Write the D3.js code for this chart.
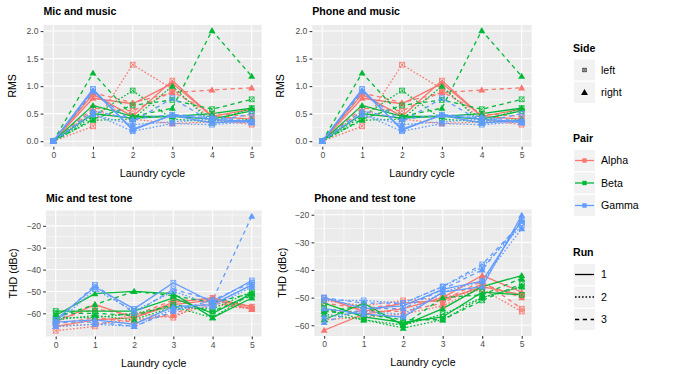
<!DOCTYPE html>
<html>
<head>
<meta charset="utf-8">
<script src="https://cdn.jsdelivr.net/npm/d3@7"></script>
<style>
body { margin: 0; background: #fff; }
text { font-family: "Liberation Sans", Arial, sans-serif; }
</style>
</head>
<body>
<div id="chart"></div>
<script>
var w = 673, h = 374;

// categories
var cycles = [0, 1, 2, 3, 4, 5];
var pairs = ["Alpha", "Beta", "Gamma"];
var sides = ["left", "right"];
var runs = ["1", "2", "3"];
var panelTitles = ["Mic and music", "Phone and music", "Mic and test tone", "Phone and test tone"];
var panelYTitles = ["RMS", "RMS", "THD (dBc)", "THD (dBc)"];

// values per pair: rows are left run1..3, right run1..3, columns are cycles 0..5
var micMusicAlpha = [
    [0, 0.85, 0.45, 1.10, 0.45, 0.40],
    [0, 0.27, 1.39, 0.95, 0.40, 0.30],
    [0, 0.60, 0.55, 0.90, 0.50, 0.45],
    [0, 0.78, 0.68, 1.05, 0.45, 0.58],
    [0, 0.55, 0.40, 0.32, 0.35, 0.35],
    [0, 0.88, 0.70, 0.88, 0.93, 0.97]
];
var micMusicBeta = [
    [0, 0.50, 0.42, 0.45, 0.40, 0.55],
    [0, 0.45, 0.92, 0.40, 0.35, 0.60],
    [0, 0.40, 0.65, 0.75, 0.58, 0.76],
    [0, 0.65, 0.45, 0.45, 0.50, 0.60],
    [0, 0.38, 0.40, 1.00, 0.33, 0.40],
    [0, 1.24, 0.45, 0.60, 2.01, 1.18]
];
var micMusicGamma = [
    [0, 0.95, 0.20, 0.48, 0.40, 0.35],
    [0, 0.50, 0.18, 0.32, 0.30, 0.35],
    [0, 0.90, 0.35, 0.78, 0.35, 0.50],
    [0, 0.92, 0.22, 0.47, 0.33, 0.38],
    [0, 0.48, 0.30, 0.35, 0.40, 0.33],
    [0, 0.55, 0.40, 0.48, 0.45, 0.35]
];
// the two music panels read identically
var phoneMusicAlpha = micMusicAlpha;
var phoneMusicBeta = micMusicBeta;
var phoneMusicGamma = micMusicGamma;

var micToneAlpha = [
    [-66, -63, -62, -56, -54, -57],
    [-68, -66, -60, -62, -53, -58],
    [-65, -62, -64, -60, -55, -58],
    [-64, -56, -62, -55, -53, -57],
    [-66, -65, -63, -61, -56, -58],
    [-63, -58, -61, -54, -54, -58]
];
var micToneBeta = [
    [-59, -59, -59, -53, -60, -51],
    [-62, -62, -60, -57, -58, -50],
    [-60, -60, -61, -56, -59, -52],
    [-61, -51, -50, -51, -62, -53],
    [-63, -61, -63, -57, -62, -51],
    [-62, -56, -50, -52, -55, -51]
];
var micToneGamma = [
    [-63, -48, -58, -46, -55, -45],
    [-65, -49, -59, -50, -56, -47],
    [-64, -47, -60, -49, -54, -46],
    [-64, -63, -65, -57, -56, -47],
    [-66, -65, -66, -58, -57, -48],
    [-64, -64, -66, -59, -54, -15.6]
];

var phoneToneAlpha = [
    [-50, -55, -52, -51, -46, -49],
    [-51, -53, -51, -50, -47, -55],
    [-52, -54, -52, -51, -44, -54],
    [-61.8, -56, -54, -50, -42, -48],
    [-58, -57, -56, -53, -46, -49],
    [-55, -55, -55, -52, -45, -50]
];
var phoneToneBeta = [
    [-52, -57, -59, -57, -48, -49],
    [-54, -58, -60, -56, -50, -46],
    [-55, -56, -58, -58, -51, -45],
    [-58, -52, -60, -54, -46, -42],
    [-56, -58, -61, -58, -50, -46],
    [-55, -53, -60, -50, -49, -43]
];
var phoneToneGamma = [
    [-50, -54, -53, -47, -44, -22],
    [-51, -51, -52, -46, -39, -24],
    [-50, -52, -52, -46, -38, -23],
    [-54, -56, -57, -48, -46, -20.2],
    [-57, -55, -56, -48, -44, -25],
    [-59, -54, -54, -47, -40, -22]
];

var panelData = [
    [micMusicAlpha, micMusicBeta, micMusicGamma],
    [phoneMusicAlpha, phoneMusicBeta, phoneMusicGamma],
    [micToneAlpha, micToneBeta, micToneGamma],
    [phoneToneAlpha, phoneToneBeta, phoneToneGamma]
];

var yTicks = [
    [0, 0.5, 1, 1.5, 2],
    [0, 0.5, 1, 1.5, 2],
    [-60, -50, -40, -30, -20],
    [-60, -50, -40, -30, -20]
];

// styles
var colors = { Alpha: "#F8766D", Beta: "#00BA38", Gamma: "#619CFF" };
var dashes = { "1": null, "2": "1.6,1.9", "3": "4.2,3.6" };
var lw = 1.3;
var fs = 10.6, tickFs = 8.6;

// panel boxes (grid.arrange style, each plot has its own axis)
var boxes = [
    { x0: 43.4, x1: 261.6, y0: 25, y1: 146.7, ytitle: 11.7, title: 14.8 },
    { x0: 312.3, x1: 531.6, y0: 25, y1: 146.7, ytitle: 280.5, title: 14.8 },
    { x0: 45.9, x1: 261.6, y0: 210.5, y1: 336.5, ytitle: 13.3, title: 202 },
    { x0: 314.3, x1: 531.6, y0: 209.5, y1: 336, ytitle: 281.7, title: 202 }
];

var svg = d3.select("#chart").append("svg")
    .attr("width", w).attr("height", h);

var fmtMinus = function (v) { return v < 0 ? "\u2212" + Math.abs(v) : "" + v; };

var triangle = d3.symbol().type(d3.symbolTriangle).size(21);

function drawLeftMarker(g, x, y, col, s) {
    var m = g.append("g").attr("transform", "translate(" + x + "," + y + ")")
        .attr("stroke", col).attr("fill", "none").attr("stroke-width", 0.8);
    m.append("rect").attr("x", -s / 2).attr("y", -s / 2).attr("width", s).attr("height", s);
    m.append("path").attr("d", "M" + (-s / 2) + "," + (-s / 2) + "L" + (s / 2) + "," + (s / 2)
        + "M" + (-s / 2) + "," + (s / 2) + "L" + (s / 2) + "," + (-s / 2));
}

panelData.forEach(function (pd, pi) {
    var b = boxes[pi];

    // flatten to series
    var series = [];
    pairs.forEach(function (pair, k) {
        sides.forEach(function (side, si) {
            runs.forEach(function (run, ri) {
                series.push({ pair: pair, side: side, run: run, values: pd[k][si * 3 + ri] });
            });
        });
    });

    var all = d3.merge(series.map(function (s) { return s.values; }));
    var ext = d3.extent(all);
    var pad = (ext[1] - ext[0]) * 0.05;

    var x = d3.scaleLinear().domain([-0.25, 5.25]).range([b.x0, b.x1]);
    var y = d3.scaleLinear().domain([ext[0] - pad, ext[1] + pad]).range([b.y1, b.y0]);

    var g = svg.append("g");

    g.append("rect").attr("x", b.x0).attr("y", b.y0)
        .attr("width", b.x1 - b.x0).attr("height", b.y1 - b.y0).attr("fill", "#EBEBEB");

    // minor grid
    var yStep = yTicks[pi][1] - yTicks[pi][0];
    var yMinor = [];
    for (var v = yTicks[pi][0] - yStep / 2; v <= y.domain()[1]; v += yStep) {
        if (v >= y.domain()[0]) yMinor.push(v);
    }
    g.selectAll(".ymin").data(yMinor).enter().append("line")
        .attr("x1", b.x0).attr("x2", b.x1)
        .attr("y1", d => y(d)).attr("y2", d => y(d))
        .attr("stroke", "#fff").attr("stroke-width", 0.53);
    g.selectAll(".xmin").data([0.5, 1.5, 2.5, 3.5, 4.5]).enter().append("line")
        .attr("y1", b.y0).attr("y2", b.y1)
        .attr("x1", d => x(d)).attr("x2", d => x(d))
        .attr("stroke", "#fff").attr("stroke-width", 0.53);
    // major grid
    g.selectAll(".ymaj").data(yTicks[pi]).enter().append("line")
        .attr("x1", b.x0).attr("x2", b.x1)
        .attr("y1", d => y(d)).attr("y2", d => y(d))
        .attr("stroke", "#fff").attr("stroke-width", 1.07);
    g.selectAll(".xmaj").data(cycles).enter().append("line")
        .attr("y1", b.y0).attr("y2", b.y1)
        .attr("x1", d => x(d)).attr("x2", d => x(d))
        .attr("stroke", "#fff").attr("stroke-width", 1.07);

    // axes
    var xAxis = d3.axisBottom(x).tickValues(cycles).tickFormat(d3.format("d"))
        .tickSize(2.75).tickPadding(2.2);
    var yAxis = d3.axisLeft(y).tickValues(yTicks[pi]).tickSize(2.75).tickPadding(2.2)
        .tickFormat(pi < 2 ? d3.format(".1f") : fmtMinus);
    var gx = g.append("g").attr("transform", "translate(0," + b.y1 + ")").call(xAxis);
    var gy = g.append("g").attr("transform", "translate(" + b.x0 + ",0)").call(yAxis);
    [gx, gy].forEach(function (a) {
        a.select(".domain").remove();
        a.selectAll(".tick line").attr("stroke", "#333333").attr("stroke-width", 1.07);
        a.selectAll(".tick text").attr("fill", "#4D4D4D").attr("font-size", tickFs)
            .attr("font-family", "Liberation Sans, Arial, sans-serif");
    });

    // lines
    var line = d3.line().x((d, i) => x(cycles[i])).y(d => y(d));
    g.selectAll(".series").data(series).enter().append("path")
        .attr("d", d => line(d.values))
        .attr("fill", "none")
        .attr("stroke", d => colors[d.pair])
        .attr("stroke-width", lw)
        .attr("stroke-dasharray", d => dashes[d.run]);

    // points
    series.forEach(function (s) {
        s.values.forEach(function (v, i) {
            if (s.side === "right") {
                g.append("path").attr("d", triangle)
                    .attr("transform", "translate(" + x(cycles[i]) + "," + (y(v) + 0.6) + ")")
                    .attr("fill", colors[s.pair]);
            } else {
                drawLeftMarker(g, x(cycles[i]), y(v), colors[s.pair], 4.8);
            }
        });
    });

    // titles
    g.append("text").attr("x", b.x0).attr("y", b.title)
        .attr("font-size", fs).attr("font-weight", "bold").attr("fill", "#000")
        .text(panelTitles[pi]);
    g.append("text").attr("x", (b.x0 + b.x1) / 2).attr("y", b.y1 + 30)
        .attr("text-anchor", "middle").attr("font-size", fs).attr("fill", "#000")
        .text("Laundry cycle");
    g.append("text")
        .attr("transform", "translate(" + (b.ytitle + 3.8) + "," + ((b.y0 + b.y1) / 2) + ") rotate(-90)")
        .attr("text-anchor", "middle").attr("font-size", fs).attr("fill", "#000")
        .text(panelYTitles[pi]);
});

// legends
var lx = 574, kw = 21, kh = 21;
var legend = svg.append("g");

function legendTitle(t, yy) {
    legend.append("text").attr("x", lx - 1).attr("y", yy).attr("font-size", fs)
        .attr("font-weight", "bold").text(t);
}
function legendKey(cy, label) {
    legend.append("rect").attr("x", lx).attr("y", cy - kh / 2).attr("width", kw).attr("height", kh)
        .attr("fill", "#F2F2F2");
    legend.append("text").attr("x", lx + kw + 6).attr("y", cy + 3.8).attr("font-size", fs).text(label);
}

legendTitle("Side", 52);
var sideY = [70, 92.5];
sides.forEach(function (s, i) {
    legendKey(sideY[i], s);
    if (s === "left") drawLeftMarker(legend, lx + kw / 2, sideY[i], "#333", 3.5);
    else legend.append("path").attr("d", triangle)
        .attr("transform", "translate(" + (lx + kw / 2) + "," + (sideY[i] + 0.6) + ")").attr("fill", "#000");
});

legendTitle("Pair", 142);
var pairY = [160.5, 183, 205.5];
pairs.forEach(function (p, i) {
    legendKey(pairY[i], p);
    legend.append("line").attr("x1", lx + 1).attr("x2", lx + kw - 1)
        .attr("y1", pairY[i]).attr("y2", pairY[i])
        .attr("stroke", colors[p]).attr("stroke-width", lw);
    legend.append("rect").attr("x", lx + kw / 2 - 2.2).attr("y", pairY[i] - 2.2)
        .attr("width", 4.4).attr("height", 4.4).attr("fill", colors[p]);
});

legendTitle("Run", 256);
var runY = [274.5, 297, 319.5];
runs.forEach(function (r, i) {
    legendKey(runY[i], r);
    legend.append("line").attr("x1", lx + 1).attr("x2", lx + kw - 1)
        .attr("y1", runY[i]).attr("y2", runY[i])
        .attr("stroke", "#000").attr("stroke-width", lw)
        .attr("stroke-dasharray", dashes[r]);
});
</script>
</body>
</html>
